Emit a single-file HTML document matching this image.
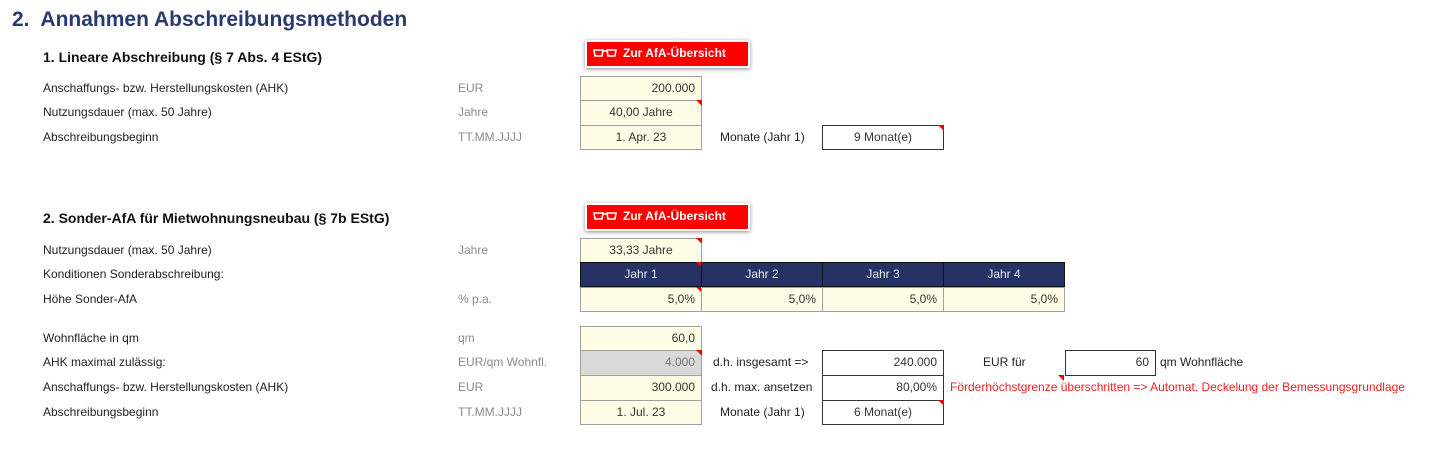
<!DOCTYPE html>
<html><head><meta charset="utf-8"><style>
body{margin:0;width:1434px;height:450px;background:#fff;position:relative;overflow:hidden;font-family:"Liberation Sans",Arial,sans-serif;font-size:12px;color:#222}
.a{position:absolute;white-space:nowrap}
.l{position:absolute;left:43px;line-height:24px;height:24px}
.u{position:absolute;left:458px;color:#8a8a8a;line-height:24px}
.c{position:absolute;box-sizing:border-box;border:1px solid #a0a0a0;background:#fffde6;line-height:23px;padding:0 6px;color:#333}
.w{background:#fff;border-color:#333}
.r{text-align:right}.m{text-align:center}
.tri::after{content:"";position:absolute;right:-1px;top:-1px;border-top:6px solid #e00;border-left:6px solid transparent}
.h{background:#263164;color:#e8ecf5;border-color:#111;text-align:center}
.btn{position:absolute;box-sizing:border-box;background:#f00;color:#fff;font-weight:bold;border:2px solid #fff;box-shadow:0 1px 4px rgba(0,0,0,.45);line-height:23px;padding-left:36px;font-size:12px}
.btn svg{position:absolute;left:6px;top:6px}
</style></head><body>
<div class="a" style="left:12px;top:8px;font-size:21px;font-weight:bold;color:#2b3a6e">2.&nbsp; Annahmen Abschreibungsmethoden</div>
<div class="a" style="left:43px;top:49px;font-size:14px;font-weight:bold;color:#111">1. Lineare Abschreibung (§ 7 Abs. 4 EStG)</div>
<div class="btn" style="left:585px;top:40px;width:165px;height:28px">
<svg width="24" height="12" viewBox="0 0 24 12"><path d="M1 2h9l-1 6h-7z M14 2h9l-1 6h-7z M10 3h4" fill="none" stroke="#fff" stroke-width="1.6"/></svg>Zur AfA-Übersicht</div>
<div class="l" style="top:76px">Anschaffungs- bzw. Herstellungskosten (AHK)</div><div class="u" style="top:76px">EUR</div>
<div class="c r" style="left:580px;top:76px;width:122px;height:25px">200.000</div>
<div class="l" style="top:100px">Nutzungsdauer (max. 50 Jahre)</div><div class="u" style="top:100px">Jahre</div>
<div class="c m tri" style="left:580px;top:100px;width:122px;height:26px">40,00 Jahre</div>
<div class="l" style="top:125px">Abschreibungsbeginn</div><div class="u" style="top:125px">TT.MM.JJJJ</div>
<div class="c m" style="left:580px;top:125px;width:122px;height:25px">1. Apr. 23</div>
<div class="a" style="left:720px;top:125px;line-height:24px">Monate (Jahr 1)</div>
<div class="c w m tri" style="left:822px;top:125px;width:122px;height:25px">9 Monat(e)</div>

<div class="a" style="left:43px;top:210px;font-size:14px;font-weight:bold;color:#111">2. Sonder-AfA für Mietwohnungsneubau (§ 7b EStG)</div>
<div class="btn" style="left:585px;top:203px;width:165px;height:28px">
<svg width="24" height="12" viewBox="0 0 24 12"><path d="M1 2h9l-1 6h-7z M14 2h9l-1 6h-7z M10 3h4" fill="none" stroke="#fff" stroke-width="1.6"/></svg>Zur AfA-Übersicht</div>
<div class="l" style="top:238px">Nutzungsdauer (max. 50 Jahre)</div><div class="u" style="top:238px">Jahre</div>
<div class="c m tri" style="left:580px;top:238px;width:122px;height:25px">33,33 Jahre</div>
<div class="l" style="top:262px">Konditionen Sonderabschreibung:</div>
<div class="c h tri" style="left:580px;top:262px;width:122px;height:25px">Jahr 1</div>
<div class="c h" style="left:701px;top:262px;width:122px;height:25px">Jahr 2</div>
<div class="c h" style="left:822px;top:262px;width:122px;height:25px">Jahr 3</div>
<div class="c h" style="left:943px;top:262px;width:122px;height:25px">Jahr 4</div>
<div class="l" style="top:287px">Höhe Sonder-AfA</div><div class="u" style="top:287px">% p.a.</div>
<div class="c r tri" style="left:580px;top:287px;width:122px;height:25px">5,0%</div>
<div class="c r" style="left:701px;top:287px;width:122px;height:25px">5,0%</div>
<div class="c r" style="left:822px;top:287px;width:122px;height:25px">5,0%</div>
<div class="c r" style="left:943px;top:287px;width:122px;height:25px">5,0%</div>

<div class="l" style="top:326px">Wohnfläche in qm</div><div class="u" style="top:326px">qm</div>
<div class="c r" style="left:580px;top:326px;width:122px;height:25px">60,0</div>
<div class="l" style="top:350px">AHK maximal zulässig:</div><div class="u" style="top:350px">EUR/qm Wohnfl.</div>
<div class="c r tri" style="left:580px;top:350px;width:122px;height:26px;background:#d9d9d9;color:#777">4.000</div>
<div class="a" style="left:713px;top:350px;line-height:24px">d.h. insgesamt =&gt;</div>
<div class="c w r" style="left:822px;top:350px;width:122px;height:26px">240.000</div>
<div class="a" style="left:983px;top:350px;line-height:24px">EUR für</div>
<div class="c w r" style="left:1065px;top:350px;width:91px;height:26px">60</div>
<div class="a" style="left:1160px;top:350px;line-height:24px">qm Wohnfläche</div>
<div class="a" style="left:1058px;top:375px;border-top:6px solid #e00;border-left:6px solid transparent"></div>
<div class="l" style="top:375px">Anschaffungs- bzw. Herstellungskosten (AHK)</div><div class="u" style="top:375px">EUR</div>
<div class="c r" style="left:580px;top:375px;width:122px;height:26px">300.000</div>
<div class="a" style="left:711px;top:375px;line-height:24px">d.h. max. ansetzen</div>
<div class="c w r" style="left:822px;top:375px;width:122px;height:26px">80,00%</div>
<div class="a" style="left:950px;top:375px;line-height:24px;color:#f02020">Förderhöchstgrenze überschritten =&gt; Automat. Deckelung der Bemessungsgrundlage</div>
<div class="l" style="top:400px">Abschreibungsbeginn</div><div class="u" style="top:400px">TT.MM.JJJJ</div>
<div class="c m" style="left:580px;top:400px;width:122px;height:25px">1. Jul. 23</div>
<div class="a" style="left:720px;top:400px;line-height:24px">Monate (Jahr 1)</div>
<div class="c w m tri" style="left:822px;top:400px;width:122px;height:25px">6 Monat(e)</div>
</body></html>
